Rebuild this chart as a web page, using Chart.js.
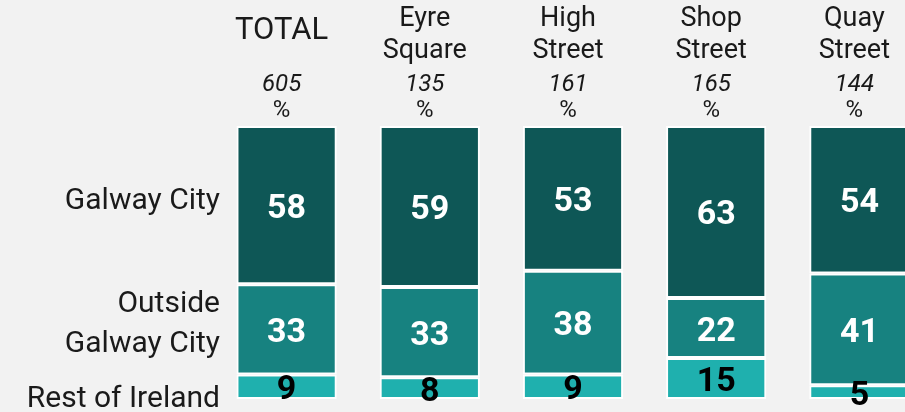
<!DOCTYPE html>
<html>
<head>
<meta charset="utf-8">
<script src="https://cdn.jsdelivr.net/npm/chart.js@4"></script>
<style>
  html, body { margin: 0; padding: 0; background: #f2f2f2; overflow: hidden; }
  #wrap { width: 931px; height: 412px; }
</style>
</head>
<body>
<div id="wrap"><canvas id="myChart" width="931" height="412"></canvas></div>
<script>
// columns across the top
var categories = [['TOTAL'], ['Eyre', 'Square'], ['High', 'Street'], ['Shop', 'Street'], ['Quay', 'Street']];
var bases = ['605', '135', '161', '165', '144'];

// series (percent)
var galwayCity = [58, 59, 53, 63, 54];
var outsideGalway = [33, 33, 38, 22, 41];
var restOfIreland = [9, 8, 9, 15, 5];

var rowLabels = [
    { lines: ['Galway City'], y: [201] },
    { lines: ['Outside', 'Galway City'], y: [304, 344] },
    { lines: ['Rest of Ireland'], y: [399] }
];

var FONT = 'Roboto, "Noto Sans", sans-serif';

var labelsPlugin = {
    id: 'labels',
    afterDatasetsDraw: function (chart) {
        var ctx = chart.ctx;
        ctx.save();
        ctx.textAlign = 'center';
        ctx.textBaseline = 'middle';
        chart.data.datasets.forEach(function (ds, di) {
            var meta = chart.getDatasetMeta(di);
            meta.data.forEach(function (bar, i) {
                var cy = (bar.y + bar.base) / 2 + 4;
                ctx.font = 'bold 34px ' + FONT;
                ctx.fillStyle = ds.labelColor;
                ctx.fillText(String(ds.data[i]), bar.x, cy);
            });
        });
        ctx.restore();
    },
    afterDraw: function (chart) {
        var ctx = chart.ctx;
        var x = chart.scales.x;
        ctx.save();
        ctx.fillStyle = '#1a1a1a';
        ctx.textAlign = 'center';
        ctx.textBaseline = 'middle';
        categories.forEach(function (lines, i) {
            var cx = x.getPixelForValue(i) - 5;
            if (lines.length === 1) {
                ctx.font = '31px ' + FONT;
                ctx.fillText(lines[0], cx, 31);
            } else {
                ctx.font = '27px ' + FONT;
                ctx.fillText(lines[0], cx, 19);
                ctx.fillText(lines[1], cx, 51);
            }
            ctx.font = 'italic 24px ' + FONT;
            ctx.fillText(bases[i], cx, 85);
            ctx.font = '24px ' + FONT;
            ctx.fillText('%', cx, 111);
        });
        ctx.textAlign = 'right';
        ctx.font = '30px ' + FONT;
        rowLabels.forEach(function (r) {
            r.lines.forEach(function (t, k) {
                ctx.fillText(t, 220, r.y[k]);
            });
        });
        ctx.restore();
    }
};

new Chart(document.getElementById('myChart'), {
    type: 'bar',
    data: {
        labels: categories.map(function (c) { return c.join(' '); }),
        datasets: [
            { label: 'Rest of Ireland', data: restOfIreland, backgroundColor: '#1fb0ae', labelColor: '#000000' },
            { label: 'Outside Galway City', data: outsideGalway, backgroundColor: '#178280', labelColor: '#ffffff' },
            { label: 'Galway City', data: galwayCity, backgroundColor: '#0e5756', labelColor: '#ffffff' }
        ].map(function (d) {
            d.borderColor = '#ffffff';
            d.borderWidth = 2;
            d.borderSkipped = false;
            d.barPercentage = 0.7;
            d.categoryPercentage = 1.0;
            return d;
        })
    },
    options: {
        responsive: false,
        animation: false,
        layout: { padding: { left: 215, top: 126, right: 0, bottom: 13 } },
        scales: {
            x: { stacked: true, display: false },
            y: { stacked: true, display: false, min: 0, max: 100 }
        },
        plugins: {
            legend: { display: false },
            tooltip: { enabled: false }
        }
    },
    plugins: [labelsPlugin]
});
</script>
</body>
</html>
